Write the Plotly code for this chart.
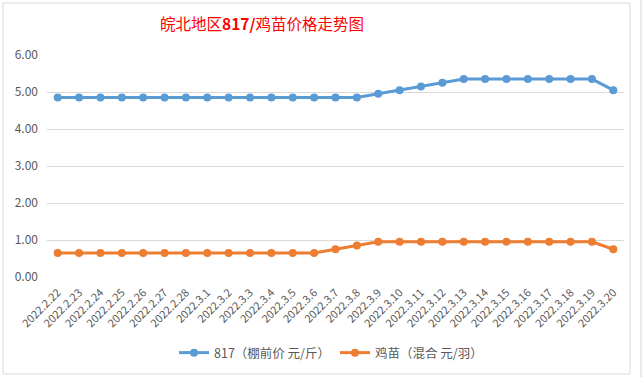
import plotly.graph_objects as go

dates = ["2022.2.22", "2022.2.23", "2022.2.24", "2022.2.25", "2022.2.26", "2022.2.27", "2022.2.28",
         "2022.3.1", "2022.3.2", "2022.3.3", "2022.3.4", "2022.3.5", "2022.3.6", "2022.3.7",
         "2022.3.8", "2022.3.9", "2022.3.10", "2022.3.11", "2022.3.12", "2022.3.13", "2022.3.14",
         "2022.3.15", "2022.3.16", "2022.3.17", "2022.3.18", "2022.3.19", "2022.3.20"]
price_817 = [4.85, 4.85, 4.85, 4.85, 4.85, 4.85, 4.85, 4.85, 4.85, 4.85, 4.85, 4.85, 4.85, 4.85,
             4.85, 4.95, 5.05, 5.15, 5.25, 5.35, 5.35, 5.35, 5.35, 5.35, 5.35, 5.35, 5.05]
price_chick = [0.65, 0.65, 0.65, 0.65, 0.65, 0.65, 0.65, 0.65, 0.65, 0.65, 0.65, 0.65, 0.65, 0.75,
               0.85, 0.95, 0.95, 0.95, 0.95, 0.95, 0.95, 0.95, 0.95, 0.95, 0.95, 0.95, 0.75]
name_817 = "817（棚前价 元/斤）"
name_chick = "鸡苗（混合 元/羽）"
title_text = "皖北地区<b>817/</b>鸡苗价格走势图"

W, H = 642, 377
L, R, T, B = 47, 18, 55, 100
pw, ph = W - L - R, H - T - B

def px_x(x):
    return (x - L) / pw

def px_y(y):
    return (H - B - y) / ph

FONT = "Noto Sans CJK SC, Microsoft YaHei, sans-serif"
GRAY = "#595959"

fig = go.Figure()
fig.add_trace(go.Scatter(x=dates, y=price_817, name=name_817, mode="lines+markers",
                         line=dict(color="#5B9BD5", width=3),
                         marker=dict(color="#5B9BD5", size=8)))
fig.add_trace(go.Scatter(x=dates, y=price_chick, name=name_chick, mode="lines+markers",
                         line=dict(color="#ED7D31", width=3),
                         marker=dict(color="#ED7D31", size=8)))

shapes = [
    dict(type="rect", xref="paper", yref="paper", x0=px_x(3), x1=px_x(630), y0=px_y(374), y1=px_y(3),
         line=dict(color="#D9D9D9", width=1), layer="below"),
    dict(type="line", xref="paper", yref="paper", x0=px_x(641), x1=px_x(641), y0=px_y(377), y1=px_y(0),
         line=dict(color="#D4D4D8", width=1)),
]

fig.update_layout(
    width=W, height=H,
    margin=dict(l=L, r=R, t=T, b=B, autoexpand=False),
    paper_bgcolor="white", plot_bgcolor="white",
    font=dict(family=FONT, color=GRAY, size=12),
    title=dict(text=title_text, x=262 / W, xanchor="center", xref="container",
               y=1 - 25 / H, yanchor="middle", yref="container",
               font=dict(family=FONT, color="#FF0000", size=15.5)),
    showlegend=True,
    legend=dict(orientation="h", x=px_x(331), xanchor="center", y=1 - 353 / H, yanchor="middle",
                yref="container", font=dict(size=12.5, color=GRAY), itemwidth=30,
                bgcolor="rgba(0,0,0,0)"),
    xaxis=dict(type="category", range=[-0.5, len(dates) - 0.5], tickangle=-45,
               tickfont=dict(size=11, color=GRAY), showgrid=False, showline=False,
               ticks="", zeroline=False, automargin=False, ticklabelstandoff=6),
    yaxis=dict(range=[0, 6], dtick=1, tickformat=".2f", showgrid=True, gridcolor="#D9D9D9",
               gridwidth=1, zeroline=False, showline=False, ticks="",
               tickfont=dict(size=12, color=GRAY), ticklabelstandoff=8, automargin=False),
    shapes=shapes,
)

fig.write_html("out.html", config={"displayModeBar": False},
               post_script="document.body.style.margin='0';document.body.style.overflow='hidden';")
